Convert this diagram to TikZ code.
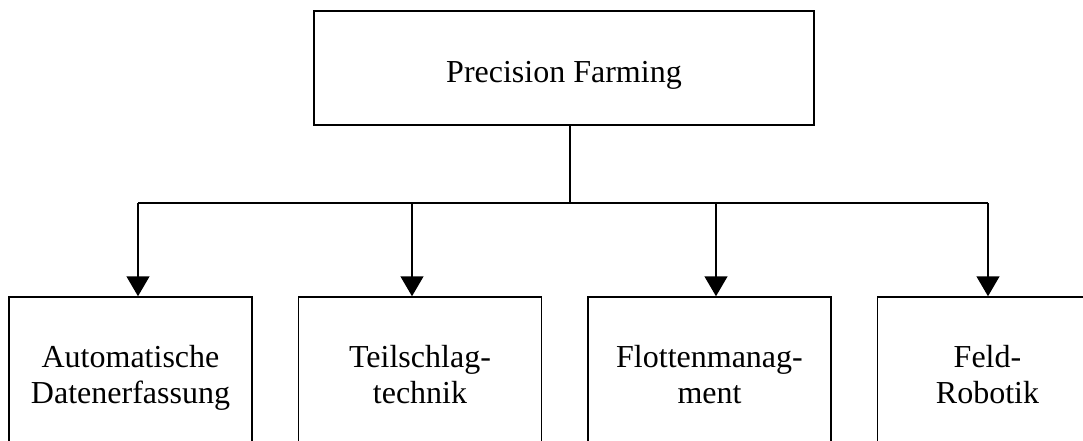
\documentclass[tikz,border=0pt]{standalone}
\usepackage{fontspec}
\setmainfont{Liberation Serif}
\usetikzlibrary{positioning, arrows.meta}

\begin{document}
\begin{tikzpicture}[
        % 以像素为单位布局，纵轴向上
        x=0.5pt, y=0.5pt,
        % 子节点之间的横向间距
        node distance=22.5pt,
        % 顶层方框样式
        rootbox/.style={
            rectangle,
            draw=black,
            line width=1pt,
            minimum width=250pt,
            minimum height=57pt,
            text height=18pt,
            text depth=3.5pt,
            font=\fontsize{16}{18}\selectfont
        },
        % 子方框样式
        block/.style={
            rectangle,
            draw=black,
            line width=0.75pt,
            minimum width=121.5pt,
            minimum height=82.5pt,
            align=center,
            execute at end node=\strut,
            font=\fontsize{16}{18}\selectfont
        },
        % 连线样式
        bus/.style={
            line width=0.75pt
        },
        % 箭头样式
        arrow/.style={
            -{Triangle[width=11.5pt, length=10pt]},
            line width=0.75pt
        }
    ]

    % 画布范围
    \clip (0,0) rectangle (1083,440);
    \fill[white] (0,0) rectangle (1083,440);

    % 1. 顶层节点
    \node[rootbox] (root) at (564,372) {Precision Farming};

    % 2. 子节点 (从左到右)
    \node[block] (auto) at (130.5,60.5) {Automatische\\Datenerfassung};
    \node[block, right=of auto] (teil) {Teilschlag-\\technik};
    \node[block, right=of teil] (flotte) {Flottenmanag-\\ment};
    \node[block, right=of flotte, minimum width=110pt] (robot) {Feld-\\Robotik};

    % 3. 分支点
    \coordinate (hub) at (570,237);
    \coordinate (j1) at (138,237);
    \coordinate (j2) at (412,237);
    \coordinate (j3) at (716,237);
    \coordinate (j4) at (988,237);

    % 4. 绘制连线
    \draw[bus] (hub |- root.south) -- (hub);
    \draw[bus] (j1) -- (j4);

    \draw[arrow] (j1) -- (j1 |- auto.north);
    \draw[arrow] (j2) -- (j2 |- teil.north);
    \draw[arrow] (j3) -- (j3 |- flotte.north);
    \draw[arrow] (j4) -- (j4 |- robot.north);

\end{tikzpicture}
\end{document}
